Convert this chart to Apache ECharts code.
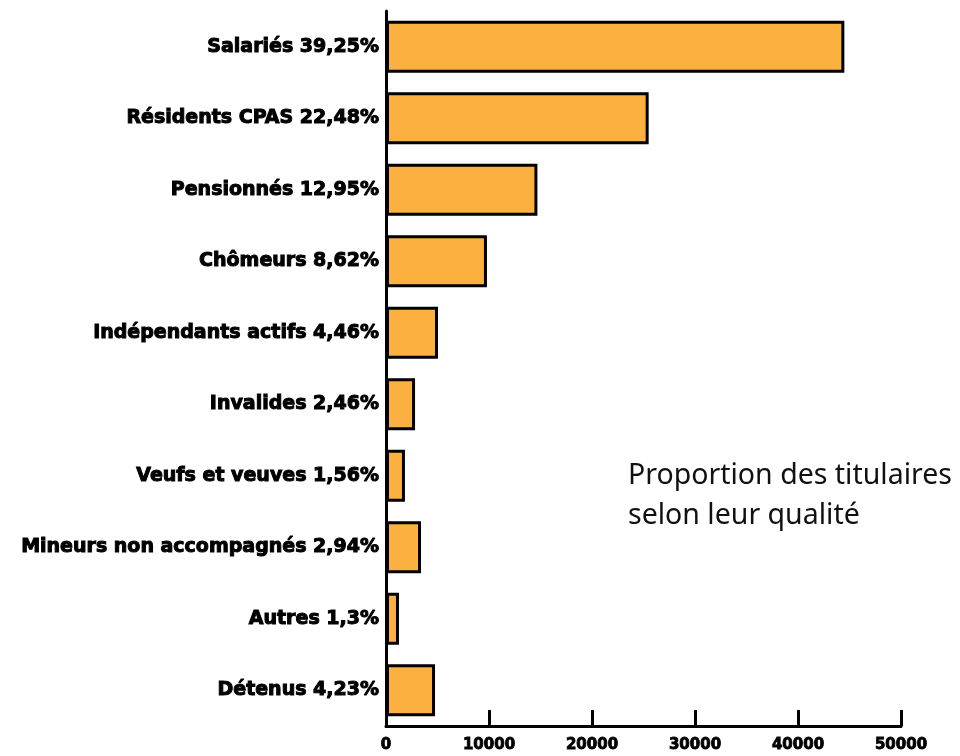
<!DOCTYPE html>
<html>
<head>
<meta charset="utf-8">
<script src="https://cdn.jsdelivr.net/npm/echarts@6/dist/echarts.min.js"></script>
<style>
  html, body { margin: 0; padding: 0; background: #fff; }
  #chart { width: 960px; height: 756px; }
</style>
</head>
<body>
<div id="chart"></div>
<script>
const categories = [
  'Salariés 39,25%',
  'Résidents CPAS 22,48%',
  'Pensionnés 12,95%',
  'Chômeurs 8,62%',
  'Indépendants actifs 4,46%',
  'Invalides 2,46%',
  'Veufs et veuves 1,56%',
  'Mineurs non accompagnés 2,94%',
  'Autres 1,3%',
  'Détenus 4,23%'
]
const titulaires = [44500, 25500, 14700, 9800, 5050, 2820, 1840, 3400, 1260, 4760]
const xTicks = [0, 10000, 20000, 30000, 40000, 50000]

const chart = echarts.init(document.getElementById('chart'))

const labelFont = '"DejaVu Sans", sans-serif'

chart.setOption({
  animation: false,
  grid: { left: 386, right: 59, top: 11, bottom: 30 },
  xAxis: {
    type: 'value',
    min: xTicks[0],
    max: xTicks[xTicks.length - 1],
    interval: 10000,
    splitLine: { show: false },
    axisLine: { show: true, lineStyle: { color: '#000', width: 3 } },
    axisTick: { show: true, inside: true, length: 16, lineStyle: { color: '#000', width: 3 } },
    axisLabel: {
      color: '#000',
      fontFamily: labelFont,
      fontWeight: 'bold',
      fontSize: 15,
      margin: 12,
      textBorderColor: '#000',
      textBorderWidth: 0.8,
      formatter: (v) => String(v)
    }
  },
  yAxis: {
    type: 'category',
    inverse: true,
    data: categories,
    axisLine: { show: true, lineStyle: { color: '#000', width: 3 } },
    axisTick: { show: false },
    axisLabel: {
      color: '#000',
      fontFamily: labelFont,
      fontWeight: 'bold',
      fontSize: 19,
      margin: 7,
      textBorderColor: '#000',
      textBorderWidth: 1
    }
  },
  series: [{
    type: 'bar',
    data: titulaires,
    barWidth: 52,
    itemStyle: { color: '#FBB040', borderColor: '#000', borderWidth: 3 }
  }],
  graphic: [{
    type: 'text',
    left: 628,
    top: 456,
    style: {
      text: 'Proportion des titulaires\nselon leur qualité',
      fill: '#111',
      font: '28.5px "Noto Sans", sans-serif',
      lineHeight: 40
    }
  }]
})
</script>
</body>
</html>
